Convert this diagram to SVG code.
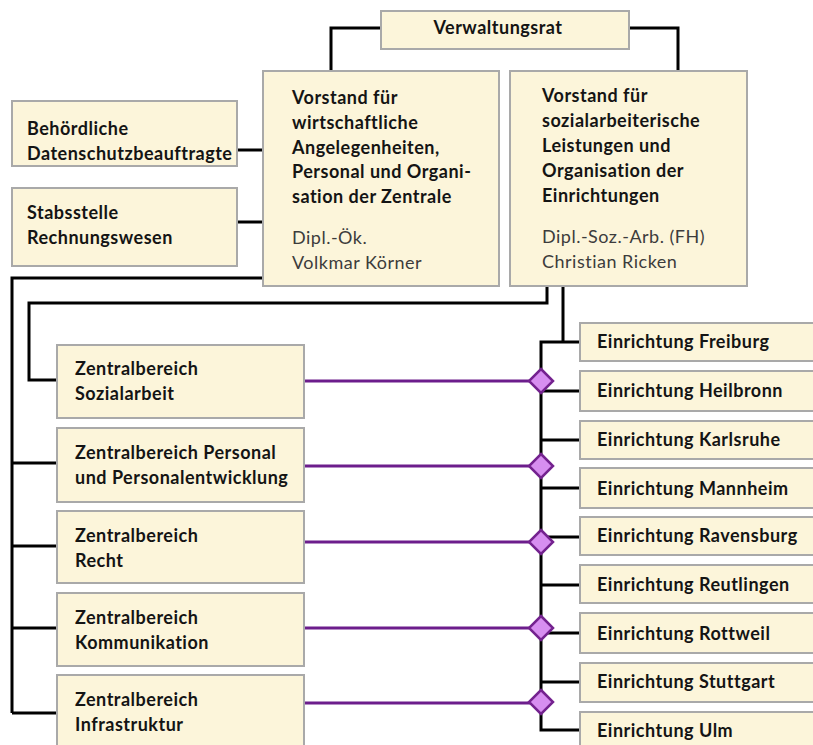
<svg xmlns="http://www.w3.org/2000/svg" width="813" height="745" viewBox="0 0 813 745">
<defs>
<style>
.box{fill:#fcf5da;stroke:#a9a9a9;stroke-width:2}
.t{font-family:Lato,"Open Sans","Liberation Sans",sans-serif;font-size:18px;letter-spacing:0.5px;font-weight:bold;fill:#141414}
.n{font-family:Lato,"Open Sans","Liberation Sans",sans-serif;font-size:18px;letter-spacing:0.5px;fill:#3c3c3c}
.c{fill:none;stroke:#000;stroke-width:3}
.p{fill:none;stroke:#6c1d8c;stroke-width:3}
.d{fill:#d78ef0;stroke:#74228f;stroke-width:2.5}
</style>
</defs>
<rect width="813" height="745" fill="#fff"/>
<g id="connectors">
<path class="c" d="M381,28 H331 V71"/>
<path class="c" d="M629,28 H678 V71"/>
<path class="c" d="M237,150 H263"/>
<path class="c" d="M237,222 H263"/>
<path class="c" d="M263,278 H12 V713"/>
<path class="c" d="M12,463 H57 M12,546 H57 M12,628 H57 M12,713 H57"/>
<path class="c" d="M547,286 V303 H29 V380 H57"/>
<path class="c" d="M563,286 V342 H580 M563,342 H541 V730 H580"/>
<path class="c" d="M541,391 H580 M541,440 H580 M541,488 H580 M541,537 H580 M541,585 H580 M541,633 H580 M541,682 H580"/>
<path class="p" d="M305,381 H541 M305,466 H541 M305,542 H541 M305,628 H541 M303,703 H541"/>
<path class="d" d="M541,369 L553,381 L541,393 L529,381 Z"/>
<path class="d" d="M541,454 L553,466 L541,478 L529,466 Z"/>
<path class="d" d="M541,530 L553,542 L541,554 L529,542 Z"/>
<path class="d" d="M541,616 L553,628 L541,640 L529,628 Z"/>
<path class="d" d="M541,690 L553,702 L541,714 L529,702 Z"/>
</g>
<g id="verwaltungsrat">
<rect class="box" x="381" y="11" width="248" height="38"/>
<text class="t" x="498" y="34" text-anchor="middle">Verwaltungsrat</text>
</g>
<g id="vorstand-wirtschaft">
<rect class="box" x="263" y="71" width="236" height="215"/>
<text class="t" x="292" y="104">Vorstand für</text>
<text class="t" x="292" y="129">wirtschaftliche</text>
<text class="t" x="292" y="154">Angelegenheiten,</text>
<text class="t" x="292" y="178">Personal und Organi-</text>
<text class="t" x="292" y="203">sation der Zentrale</text>
<text class="n" x="292" y="244">Dipl.-Ök.</text>
<text class="n" x="292" y="269">Volkmar Körner</text>
</g>
<g id="vorstand-sozial">
<rect class="box" x="510" y="71" width="237" height="215"/>
<text class="t" x="542" y="102">Vorstand für</text>
<text class="t" x="542" y="127">sozialarbeiterische</text>
<text class="t" x="542" y="152">Leistungen und</text>
<text class="t" x="542" y="177">Organisation der</text>
<text class="t" x="542" y="202">Einrichtungen</text>
<text class="n" x="542" y="243">Dipl.-Soz.-Arb. (FH)</text>
<text class="n" x="542" y="268">Christian Ricken</text>
</g>
<g id="datenschutz">
<rect class="box" x="12" y="101" width="225" height="65"/>
<text class="t" x="27" y="135">Behördliche</text>
<text class="t" x="27" y="160">Datenschutzbeauftragte</text>
</g>
<g id="rechnungswesen">
<rect class="box" x="12" y="188" width="225" height="78"/>
<text class="t" x="27" y="219">Stabsstelle</text>
<text class="t" x="27" y="244">Rechnungswesen</text>
</g>
<g id="zb-sozialarbeit">
<rect class="box" x="57" y="345" width="247" height="73"/>
<text class="t" x="75" y="375">Zentralbereich</text>
<text class="t" x="75" y="400">Sozialarbeit</text>
</g>
<g id="zb-personal">
<rect class="box" x="57" y="428" width="247" height="74"/>
<text class="t" x="75" y="459">Zentralbereich Personal</text>
<text class="t" x="75" y="484">und Personalentwicklung</text>
</g>
<g id="zb-recht">
<rect class="box" x="57" y="511" width="247" height="72"/>
<text class="t" x="75" y="542">Zentralbereich</text>
<text class="t" x="75" y="567">Recht</text>
</g>
<g id="zb-kommunikation">
<rect class="box" x="57" y="593" width="247" height="73"/>
<text class="t" x="75" y="624">Zentralbereich</text>
<text class="t" x="75" y="649">Kommunikation</text>
</g>
<g id="zb-infrastruktur">
<rect class="box" x="57" y="675" width="247" height="80"/>
<text class="t" x="75" y="706">Zentralbereich</text>
<text class="t" x="75" y="731">Infrastruktur</text>
</g>
<g id="e-freiburg"><rect class="box" x="580" y="323" width="245" height="38"/><text class="t" x="597" y="348">Einrichtung Freiburg</text></g>
<g id="e-heilbronn"><rect class="box" x="580" y="371" width="245" height="40"/><text class="t" x="597" y="397">Einrichtung Heilbronn</text></g>
<g id="e-karlsruhe"><rect class="box" x="580" y="421" width="245" height="38"/><text class="t" x="597" y="446">Einrichtung Karlsruhe</text></g>
<g id="e-mannheim"><rect class="box" x="580" y="468" width="245" height="40"/><text class="t" x="597" y="495">Einrichtung Mannheim</text></g>
<g id="e-ravensburg"><rect class="box" x="580" y="517" width="245" height="38"/><text class="t" x="597" y="542">Einrichtung Ravensburg</text></g>
<g id="e-reutlingen"><rect class="box" x="580" y="565" width="245" height="38"/><text class="t" x="597" y="591">Einrichtung Reutlingen</text></g>
<g id="e-rottweil"><rect class="box" x="580" y="613" width="245" height="40"/><text class="t" x="597" y="640">Einrichtung Rottweil</text></g>
<g id="e-stuttgart"><rect class="box" x="580" y="663" width="245" height="39"/><text class="t" x="597" y="688">Einrichtung Stuttgart</text></g>
<g id="e-ulm"><rect class="box" x="580" y="712" width="245" height="45"/><text class="t" x="597" y="737">Einrichtung Ulm</text></g>
</svg>
